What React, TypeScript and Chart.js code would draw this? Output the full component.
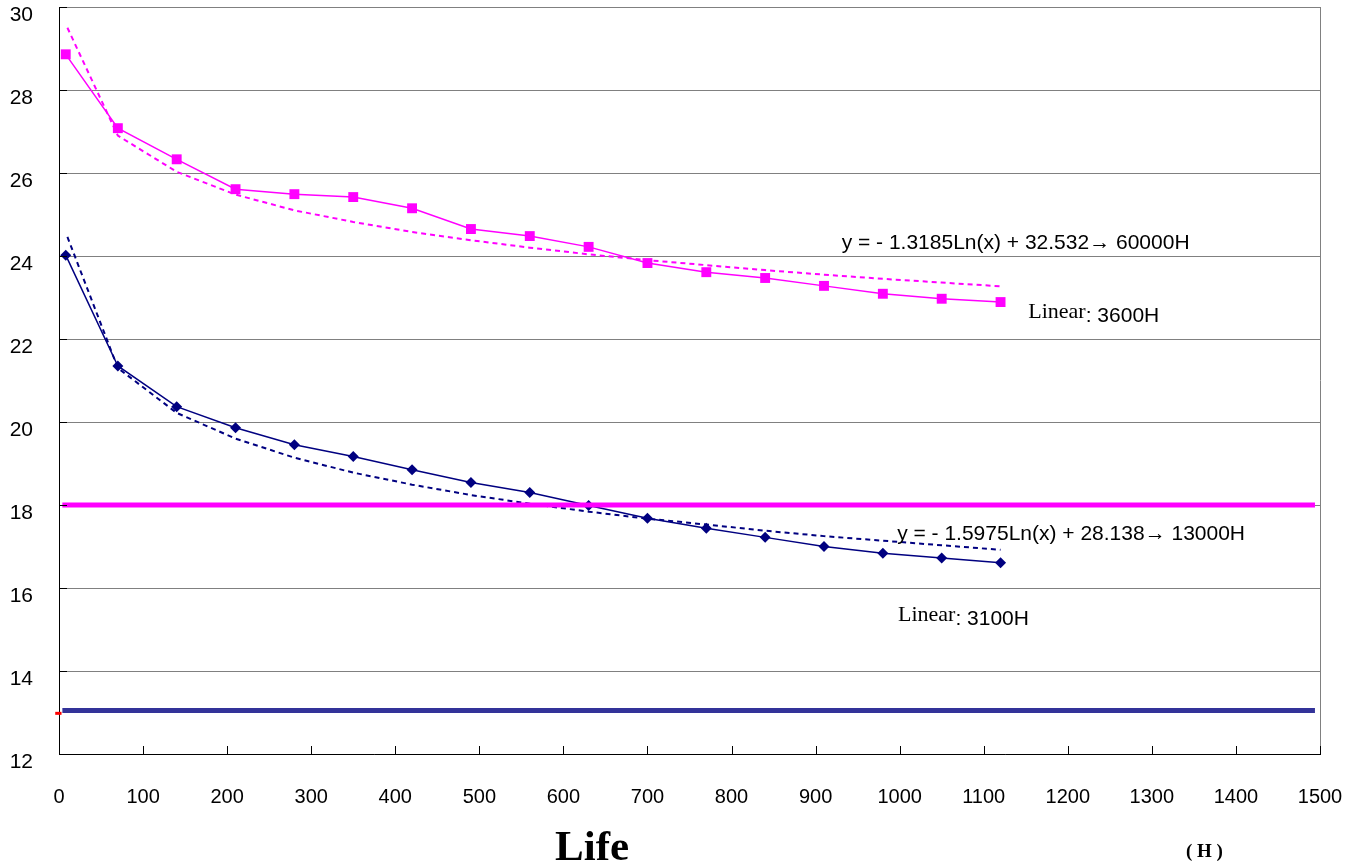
import React, { useEffect, useRef } from "react";
import { Chart, registerables } from "chart.js";
Chart.register(...registerables);

// ---- data ----
const hours = [8, 70, 140, 210, 280, 350, 420, 490, 560, 630, 700, 770, 840, 910, 980, 1050, 1120];
const upperSeries = [28.86, 27.08, 26.33, 25.61, 25.49, 25.42, 25.15, 24.65, 24.48, 24.22, 23.83, 23.61, 23.47, 23.28, 23.09, 22.97, 22.89];
const lowerSeries = [24.02, 21.35, 20.37, 19.86, 19.45, 19.17, 18.85, 18.54, 18.3, 17.99, 17.68, 17.44, 17.22, 17.0, 16.84, 16.72, 16.61];
const trendHours = [10, 70, 140, 210, 280, 350, 420, 490, 560, 630, 700, 770, 840, 910, 980, 1050, 1120];
const upperTrend = [29.5, 26.9, 26.03, 25.48, 25.1, 24.82, 24.58, 24.38, 24.2, 24.04, 23.9, 23.78, 23.66, 23.55, 23.45, 23.36, 23.27];
const lowerTrend = [24.46, 21.3, 20.22, 19.6, 19.14, 18.78, 18.49, 18.24, 18.03, 17.84, 17.67, 17.53, 17.38, 17.25, 17.14, 17.03, 16.92];
const limitHours = [4, 1494];
const upperLimit = [18, 18];
const lowerLimit = [13.05, 13.05];
const redMarkHours = [-4.5, 3];
const redMarkValue = [12.98, 12.98];
const upperEquation = "y = - 1.3185Ln(x) + 32.532\u2192 60000H";
const upperLinear = ": 3600H";
const lowerEquation = "y = - 1.5975Ln(x) + 28.138\u2192 13000H";
const lowerLinear = ": 3100H";
const xTitle = "Life";
const xUnit = "( H )";

const pts = (xs: number[], ys: number[]) => xs.map((x, i) => ({ x, y: ys[i] }));

const overlay = {
  id: "overlay",
  afterDraw(chart: any) {
    const { ctx, chartArea: a, scales } = chart;
    const xs = scales.x;
    const ys = scales.y;
    ctx.save();
    // right border
    ctx.strokeStyle = "#808080";
    ctx.lineWidth = 1;
    ctx.beginPath();
    ctx.moveTo(Math.round(a.right) + 0.5, a.top);
    ctx.lineTo(Math.round(a.right) + 0.5, a.bottom);
    ctx.stroke();
    // inward tick marks
    ctx.strokeStyle = "#000";
    ctx.beginPath();
    xs.ticks.forEach((t: any) => {
      const px = Math.round(xs.getPixelForValue(t.value)) + 0.5;
      ctx.moveTo(px, a.bottom);
      ctx.lineTo(px, a.bottom - 8);
    });
    ys.ticks.forEach((t: any) => {
      const py = Math.round(ys.getPixelForValue(t.value)) + 0.5;
      ctx.moveTo(a.left, py);
      ctx.lineTo(a.left + 8, py);
    });
    ctx.stroke();

    // annotations
    ctx.fillStyle = "#000";
    ctx.textBaseline = "middle";
    ctx.textAlign = "left";
    const sans = "21px 'Liberation Sans', Arial, sans-serif";
    const serif = "22px 'Liberation Serif', 'Times New Roman', serif";
    const drawEq = (text: string, hx: number, vy: number) => {
      ctx.font = sans;
      ctx.fillText(text, xs.getPixelForValue(hx), ys.getPixelForValue(vy));
    };
    const drawLinear = (suffix: string, hx: number, vy: number) => {
      const px = xs.getPixelForValue(hx);
      const py = ys.getPixelForValue(vy);
      ctx.font = serif;
      ctx.fillText("Linear", px, py - 2);
      const w = ctx.measureText("Linear").width;
      ctx.font = sans;
      ctx.fillText(suffix, px + w, py + 2);
    };
    drawEq(upperEquation, 931, 24.3);
    drawLinear(upperLinear, 1153, 22.6);
    drawEq(lowerEquation, 997, 17.3);
    drawLinear(lowerLinear, 998, 15.3);

    // axis titles
    ctx.textBaseline = "alphabetic";
    ctx.font = "bold 43px 'Liberation Serif', 'Times New Roman', serif";
    ctx.fillText(xTitle, 555, 860);
    ctx.font = "bold 19px 'Liberation Serif', 'Times New Roman', serif";
    ctx.fillText(xUnit, 1186, 857);
    ctx.restore();
  },
};

export default function App() {
  const ref = useRef<HTMLCanvasElement | null>(null);
  useEffect(() => {
    if (!ref.current) return;
    const chart = new Chart(ref.current, {
      type: "line",
      data: {
        datasets: [
          {
            data: pts(hours, upperSeries),
            borderColor: "#FF00FF",
            backgroundColor: "#FF00FF",
            borderWidth: 1.5,
            pointStyle: "rect",
            pointRadius: 7,
            pointBorderWidth: 0,
            order: 1,
          },
          {
            data: pts(hours, lowerSeries),
            borderColor: "#000080",
            backgroundColor: "#000080",
            borderWidth: 1.5,
            pointStyle: "rectRot",
            pointRadius: 5.5,
            pointBorderWidth: 0,
            order: 1,
          },
          {
            data: pts(trendHours, upperTrend),
            borderColor: "#FF00FF",
            borderWidth: 2,
            borderDash: [5, 4],
            pointRadius: 0,
            order: 2,
          },
          {
            data: pts(trendHours, lowerTrend),
            borderColor: "#000080",
            borderWidth: 2,
            borderDash: [5, 4],
            pointRadius: 0,
            order: 2,
          },
          {
            data: pts(limitHours, upperLimit),
            borderColor: "#FF00FF",
            borderWidth: 5,
            pointRadius: 0,
            order: 0,
          },
          {
            data: pts(limitHours, lowerLimit),
            borderColor: "#333399",
            borderWidth: 5,
            pointRadius: 0,
            order: 0,
          },
          {
            data: pts(redMarkHours, redMarkValue),
            borderColor: "#FF0000",
            borderWidth: 3,
            pointRadius: 0,
            clip: false as any,
            order: 0,
          },
        ],
      },
      options: {
        animation: false,
        responsive: false,
        layout: { padding: { left: 0, right: 31, top: 6.5, bottom: 0 } },
        plugins: { legend: { display: false }, tooltip: { enabled: false } },
        elements: { line: { tension: 0 } },
        scales: {
          x: {
            type: "linear",
            min: 0,
            max: 1500,
            ticks: {
              stepSize: 100,
              color: "#000",
              padding: 31,
              maxRotation: 0,
              callback: (v: any) => String(v),
              font: { family: "'Liberation Sans', Arial, sans-serif", size: 20 },
            },
            grid: { display: false, drawTicks: false },
            border: { display: true, color: "#000", width: 1 },
            afterFit(scale: any) {
              scale.height = 113;
              scale.paddingLeft = 0;
              scale.paddingRight = 0;
            },
          },
          y: {
            min: 12,
            max: 30,
            ticks: {
              stepSize: 2,
              color: "#000",
              padding: 26,
              labelOffset: 8,
              font: { family: "'Liberation Sans', Arial, sans-serif", size: 21 },
            },
            grid: { color: "#808080", lineWidth: 1, drawTicks: false },
            border: { display: true, color: "#000", width: 1 },
            afterFit(scale: any) {
              scale.width = 59;
              scale.paddingTop = 0;
              scale.paddingBottom = 0;
            },
          },
        },
      },
      plugins: [overlay],
    });
    return () => chart.destroy();
  }, []);
  return (
    <div style={{ position: "absolute", left: 0, top: 0, width: 1351, height: 867, background: "#fff" }}>
      <canvas ref={ref} width={1351} height={867} />
    </div>
  );
}
